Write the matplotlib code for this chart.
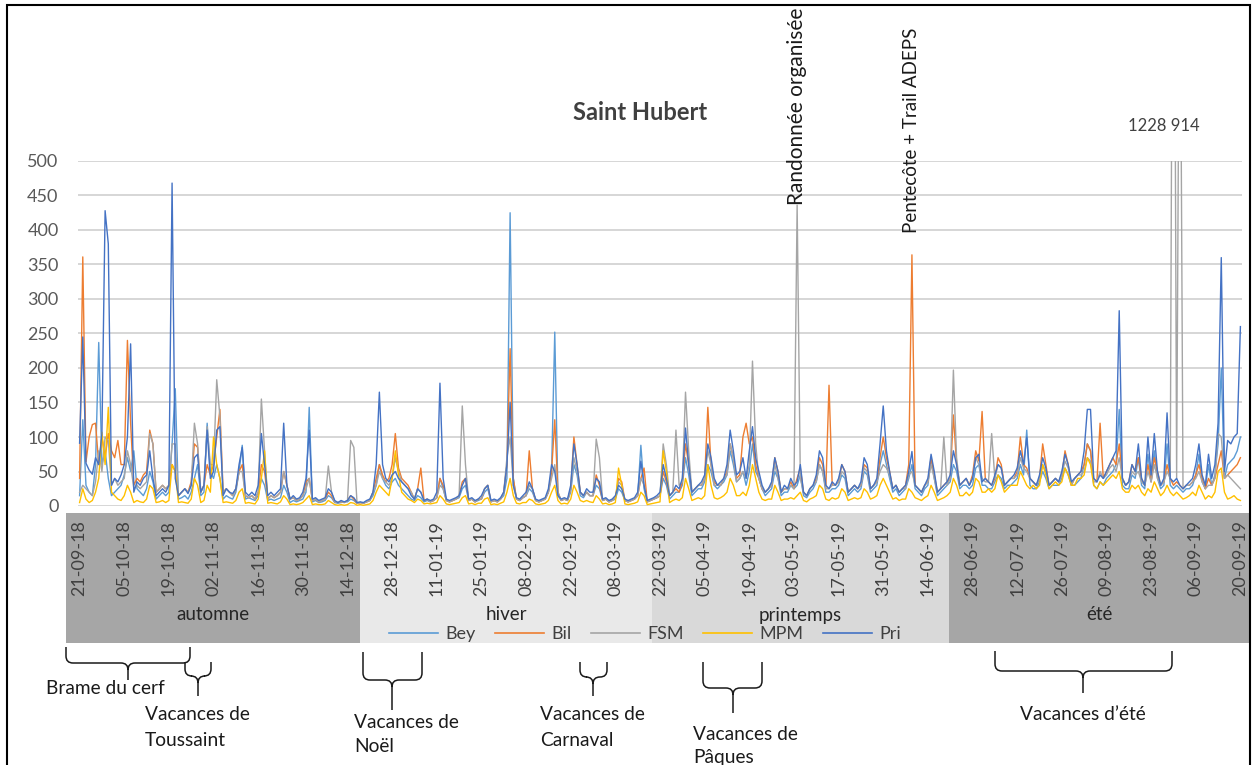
import matplotlib
matplotlib.use("Agg")
import matplotlib.pyplot as plt
import pandas as pd
from matplotlib.path import Path
from matplotlib.patches import PathPatch, Rectangle
from matplotlib.lines import Line2D

plt.rcParams['font.family'] = ['Lato', 'DejaVu Sans']

# daily counts, 21-09-18 -> 20-09-19 (two weeks per line)
dates = pd.date_range('2018-09-21', periods=365, freq='D')

bey = [15, 125, 30, 20, 15, 60, 237, 60, 80, 40, 15, 20, 25, 30,
       45, 70, 50, 80, 25, 20, 15, 25, 50, 35, 10, 15, 20, 15,
       20, 90, 170, 10, 12, 15, 10, 20, 40, 60, 15, 20, 120, 50,
       40, 60, 40, 10, 15, 12, 10, 20, 50, 88, 10, 12, 10, 8,
       15, 40, 30, 8, 10, 8, 10, 12, 30, 20, 5, 8, 6, 8,
       10, 20, 143, 6, 8, 5, 6, 8, 15, 12, 5, 4, 5, 6,
       6, 10, 8, 4, 5, 4, 6, 8, 15, 30, 60, 40, 30, 25,
       35, 40, 30, 25, 20, 15, 10, 8, 15, 12, 6, 8, 6, 8,
       12, 40, 25, 8, 6, 8, 10, 12, 25, 30, 8, 10, 6, 8,
       10, 20, 25, 6, 8, 6, 10, 15, 40, 425, 40, 10, 8, 12,
       15, 25, 20, 8, 6, 8, 10, 20, 50, 252, 15, 8, 10, 8,
       20, 60, 45, 15, 12, 20, 15, 15, 30, 25, 8, 10, 6, 8,
       10, 25, 20, 8, 6, 8, 10, 15, 88, 25, 6, 8, 10, 12,
       15, 40, 30, 10, 15, 20, 20, 30, 70, 45, 15, 20, 25, 25,
       35, 60, 50, 30, 25, 30, 35, 45, 80, 60, 35, 40, 50, 30,
       50, 90, 50, 40, 25, 15, 20, 25, 50, 40, 15, 20, 20, 30,
       25, 30, 45, 15, 12, 20, 25, 35, 60, 50, 20, 20, 25, 25,
       30, 45, 40, 15, 20, 25, 20, 25, 50, 45, 20, 25, 30, 60,
       80, 60, 40, 20, 25, 15, 20, 25, 40, 60, 25, 20, 15, 25,
       30, 70, 40, 15, 20, 25, 30, 35, 60, 50, 25, 30, 30, 25,
       30, 55, 60, 30, 30, 25, 25, 35, 45, 40, 25, 30, 30, 35,
       40, 60, 45, 110, 30, 25, 25, 35, 50, 40, 25, 30, 30, 30,
       40, 55, 45, 30, 30, 35, 40, 60, 90, 80, 30, 25, 35, 30,
       40, 45, 50, 60, 140, 30, 25, 25, 45, 40, 70, 30, 25, 75,
       35, 80, 40, 25, 30, 90, 30, 25, 30, 25, 20, 25, 25, 30,
       45, 75, 35, 25, 60, 30, 45, 90, 200, 40, 60, 65, 70, 80,
       100]

bil = [40, 361, 64, 100, 118, 120, 60, 100, 70, 105, 80, 70, 95, 60,
       60, 240, 120, 30, 40, 35, 45, 50, 110, 90, 20, 25, 30, 25,
       30, 60, 50, 15, 20, 25, 20, 35, 90, 85, 20, 30, 60, 45,
       60, 100, 140, 20, 25, 20, 15, 25, 50, 60, 15, 12, 15, 10,
       20, 60, 50, 10, 15, 12, 15, 20, 50, 30, 10, 12, 8, 10,
       15, 35, 40, 8, 10, 6, 8, 10, 20, 15, 6, 5, 6, 5,
       8, 15, 10, 4, 5, 4, 6, 8, 20, 40, 60, 45, 35, 40,
       60, 105, 55, 40, 35, 30, 20, 10, 25, 55, 8, 10, 6, 8,
       12, 40, 30, 8, 6, 8, 10, 15, 35, 40, 8, 10, 6, 10,
       10, 25, 30, 6, 8, 6, 10, 20, 60, 228, 40, 10, 8, 12,
       15, 80, 25, 8, 6, 8, 10, 20, 50, 125, 20, 8, 10, 8,
       25, 100, 60, 20, 15, 20, 15, 15, 45, 30, 8, 10, 6, 8,
       12, 40, 35, 8, 6, 8, 10, 15, 40, 55, 6, 8, 10, 12,
       15, 50, 35, 15, 20, 25, 20, 35, 90, 60, 20, 25, 30, 30,
       40, 143, 60, 35, 30, 30, 40, 50, 90, 70, 40, 45, 100, 120,
       90, 100, 60, 40, 25, 20, 25, 30, 70, 50, 20, 25, 25, 35,
       25, 40, 55, 20, 15, 25, 30, 40, 70, 60, 25, 175, 30, 30,
       35, 60, 50, 20, 25, 30, 25, 30, 60, 55, 25, 30, 35, 70,
       100, 70, 50, 25, 30, 20, 25, 30, 60, 364, 30, 25, 20, 30,
       35, 70, 45, 20, 25, 30, 35, 40, 132, 60, 30, 35, 40, 30,
       45, 80, 65, 137, 40, 35, 30, 40, 70, 60, 30, 35, 40, 40,
       50, 100, 60, 55, 40, 35, 30, 40, 90, 60, 30, 35, 40, 35,
       45, 80, 60, 30, 40, 45, 50, 60, 90, 80, 40, 35, 120, 40,
       50, 60, 70, 60, 90, 40, 30, 35, 60, 50, 70, 40, 30, 60,
       35, 70, 50, 30, 35, 60, 40, 30, 35, 30, 25, 30, 30, 35,
       45, 60, 40, 25, 40, 30, 40, 60, 80, 40, 45, 50, 55, 60,
       70]

fsm = [20, 30, 25, 20, 15, 35, 80, 50, 100, 95, 30, 40, 30, 35,
       40, 80, 60, 25, 30, 25, 30, 35, 105, 90, 20, 25, 30, 25,
       30, 90, 90, 15, 20, 25, 20, 30, 120, 90, 20, 30, 115, 60,
       60, 183, 130, 20, 25, 20, 15, 25, 50, 50, 15, 12, 15, 10,
       20, 155, 80, 10, 15, 12, 15, 20, 50, 30, 10, 12, 8, 10,
       15, 25, 40, 8, 10, 6, 8, 10, 58, 20, 6, 5, 6, 5,
       8, 95, 85, 4, 5, 4, 6, 8, 20, 30, 50, 40, 35, 30,
       40, 70, 50, 35, 30, 25, 20, 10, 25, 20, 8, 10, 6, 8,
       12, 30, 25, 8, 6, 8, 10, 15, 145, 60, 8, 10, 6, 10,
       10, 25, 30, 6, 8, 6, 10, 20, 70, 100, 30, 10, 8, 12,
       15, 30, 25, 8, 6, 8, 10, 20, 40, 60, 20, 8, 10, 8,
       25, 70, 50, 20, 15, 20, 15, 15, 97, 70, 8, 10, 6, 8,
       12, 35, 30, 8, 6, 8, 10, 15, 40, 30, 6, 8, 10, 12,
       15, 90, 60, 15, 20, 110, 30, 35, 165, 80, 20, 25, 30, 30,
       40, 80, 60, 30, 30, 30, 40, 45, 90, 70, 35, 40, 50, 40,
       60, 210, 90, 40, 25, 20, 25, 30, 60, 40, 20, 25, 25, 30,
       25, 436, 40, 20, 15, 25, 30, 35, 60, 50, 25, 25, 30, 30,
       35, 50, 45, 20, 25, 30, 25, 30, 55, 50, 25, 30, 35, 50,
       60, 55, 45, 25, 30, 20, 25, 25, 45, 50, 30, 25, 20, 30,
       35, 60, 40, 20, 25, 100, 30, 40, 197, 70, 30, 35, 40, 30,
       40, 70, 60, 40, 35, 35, 105, 40, 60, 55, 30, 35, 40, 40,
       45, 70, 55, 50, 40, 35, 30, 40, 60, 50, 30, 35, 40, 35,
       45, 65, 55, 30, 40, 45, 45, 50, 70, 65, 35, 35, 50, 40,
       45, 55, 60, 50, 70, 40, 30, 35, 50, 45, 50, 35, 30, 50,
       35, 60, 40, 30, 35, 50, 40, 1228, 40, 914, 25, 30, 30, 35,
       40, 50, 35, 25, 30, 30, 40, 105, 100, 40, 45, 40, 35, 30,
       25]

mpm = [5, 25, 10, 5, 8, 20, 40, 107, 60, 143, 20, 15, 10, 8,
       15, 30, 20, 5, 8, 6, 5, 10, 30, 25, 5, 6, 8, 5,
       8, 60, 50, 5, 6, 5, 4, 10, 40, 30, 5, 8, 30, 20,
       100, 60, 40, 5, 6, 5, 4, 8, 20, 25, 4, 5, 4, 3,
       10, 40, 80, 4, 5, 4, 3, 6, 15, 10, 2, 3, 2, 3,
       5, 10, 15, 2, 3, 2, 2, 3, 8, 5, 2, 1, 2, 1,
       2, 5, 4, 1, 2, 1, 2, 3, 8, 20, 30, 25, 20, 15,
       40, 80, 45, 20, 15, 10, 8, 5, 10, 8, 3, 4, 3, 4,
       5, 15, 10, 3, 2, 3, 4, 5, 12, 15, 3, 4, 2, 4,
       4, 10, 12, 2, 3, 2, 4, 6, 20, 40, 15, 4, 3, 5,
       5, 10, 8, 3, 2, 3, 4, 8, 20, 30, 8, 3, 4, 3,
       10, 30, 20, 8, 6, 8, 6, 5, 15, 10, 3, 4, 2, 3,
       5, 55, 30, 3, 2, 3, 4, 6, 20, 15, 2, 3, 4, 5,
       6, 80, 50, 5, 8, 10, 8, 12, 40, 25, 8, 10, 12, 10,
       15, 60, 30, 12, 10, 12, 15, 20, 40, 30, 15, 15, 20, 15,
       30, 60, 40, 20, 10, 8, 10, 10, 30, 20, 8, 10, 10, 12,
       10, 15, 20, 8, 6, 10, 12, 15, 30, 25, 10, 8, 12, 10,
       12, 25, 20, 8, 10, 12, 10, 12, 25, 20, 10, 12, 15, 30,
       40, 30, 20, 10, 12, 8, 10, 10, 25, 20, 12, 10, 8, 12,
       15, 30, 20, 8, 10, 12, 15, 20, 40, 30, 15, 15, 20, 15,
       20, 40, 35, 20, 20, 25, 20, 25, 45, 35, 20, 25, 30, 30,
       30, 50, 40, 30, 25, 30, 25, 30, 60, 45, 25, 30, 35, 30,
       35, 55, 45, 30, 30, 40, 40, 45, 70, 60, 30, 25, 35, 30,
       35, 40, 45, 40, 50, 25, 20, 20, 30, 25, 30, 20, 15, 25,
       20, 35, 25, 15, 20, 30, 20, 15, 20, 15, 10, 12, 15, 20,
       15, 30, 20, 10, 15, 12, 20, 50, 55, 20, 10, 12, 15, 10,
       8]

pri = [91, 245, 62, 52, 46, 70, 60, 105, 428, 380, 30, 40, 35, 45,
       60, 100, 235, 20, 35, 30, 40, 45, 80, 40, 15, 20, 25, 20,
       30, 468, 40, 15, 20, 25, 18, 30, 70, 75, 20, 30, 110, 40,
       50, 110, 115, 15, 25, 20, 18, 25, 60, 85, 20, 15, 20, 15,
       30, 105, 60, 15, 20, 15, 20, 25, 120, 30, 10, 15, 10, 12,
       20, 40, 110, 10, 12, 8, 10, 12, 25, 20, 8, 5, 8, 6,
       8, 15, 12, 5, 6, 5, 8, 10, 20, 60, 165, 60, 40, 35,
       45, 50, 40, 35, 30, 25, 15, 10, 25, 20, 8, 10, 8, 10,
       20, 178, 40, 10, 8, 10, 12, 15, 30, 40, 10, 12, 8, 10,
       15, 25, 30, 8, 10, 8, 12, 20, 60, 150, 30, 12, 10, 15,
       20, 35, 25, 10, 8, 10, 12, 25, 60, 50, 15, 10, 12, 10,
       30, 90, 60, 20, 15, 25, 20, 20, 40, 35, 10, 12, 8, 10,
       15, 30, 25, 10, 8, 10, 12, 20, 65, 30, 8, 10, 12, 15,
       20, 60, 40, 15, 20, 30, 25, 40, 113, 60, 20, 25, 30, 35,
       45, 90, 70, 40, 30, 35, 40, 60, 110, 80, 45, 50, 70, 40,
       80, 115, 70, 50, 30, 20, 25, 35, 70, 50, 20, 30, 25, 40,
       30, 35, 60, 20, 15, 25, 30, 45, 80, 70, 30, 25, 35, 30,
       40, 60, 50, 20, 25, 30, 25, 35, 70, 60, 25, 30, 40, 90,
       145, 80, 50, 25, 30, 20, 25, 30, 50, 79, 30, 25, 20, 30,
       40, 75, 50, 20, 25, 30, 35, 45, 80, 60, 30, 35, 40, 30,
       40, 70, 75, 35, 40, 35, 30, 45, 60, 55, 30, 35, 40, 45,
       55, 80, 60, 100, 40, 35, 30, 45, 70, 55, 30, 35, 40, 35,
       50, 75, 60, 35, 40, 45, 50, 80, 140, 140, 40, 35, 45, 40,
       50, 60, 70, 80, 283, 40, 30, 35, 60, 50, 90, 40, 30, 100,
       45, 105, 50, 30, 40, 135, 40, 35, 40, 30, 25, 30, 35, 40,
       60, 90, 45, 30, 75, 40, 60, 120, 360, 50, 95, 90, 100, 105,
       260]

names = ['Bey', 'Bil', 'FSM', 'MPM', 'Pri']
colors = ['#5b9bd5', '#ed7d31', '#a5a5a5', '#ffc000', '#4472c4']
series = [bey, bil, fsm, mpm, pri]

seasons = ['automne', 'hiver', 'printemps', 'été']
season_edges = [88, 179.5, 272.5]          # day index where next season starts
season_colors = ['#a6a6a6', '#e9e9e9', '#d9d9d9', '#a6a6a6']

W, H = 1257, 765
fig = plt.figure(figsize=(W / 100, H / 100), dpi=100)

def fx(px):
    return px / W

def fy(py):
    return 1 - py / H

ppd = 1164 / 365  # pixels per day

# season band under the chart
band = fig.add_axes([fx(66), fy(643), fx(1184), 130 / H], zorder=0)
band.set_xlim(-0.5 - 12 / ppd, 364.5 + 8 / ppd)
band.set_ylim(0, 1)
band.axis('off')
starts = [band.get_xlim()[0]] + season_edges
ends = season_edges + [band.get_xlim()[1]]
for s, e, name, c in zip(starts, ends, seasons, season_colors):
    band.axvspan(s, e, color=c, lw=0)
    band.text((s + e) / 2, (643 - 615) / 130, name, ha='center', va='center',
              fontsize=13.5, color='#262626')

ax = fig.add_axes([fx(78), fy(506), fx(1164), 345 / H], zorder=1)
days = list(range(len(dates)))
for vals, name, c in zip(series, names, colors):
    ax.plot(days, vals, color=c, lw=1.0, label=name)

ax.set_xlim(-0.5, 364.5)
ax.set_ylim(0, 500)
ax.set_yticks(range(0, 501, 50))
ax.yaxis.grid(True, color='#d6d6d6', lw=1.4)
ax.set_axisbelow(True)
for sp in ax.spines.values():
    sp.set_visible(False)
tick_days = list(range(0, 365, 14))
ax.set_xticks(tick_days)
ax.set_xticklabels([dates[i].strftime('%d-%m-%y') for i in tick_days],
                   rotation=90, fontsize=13, color='#404040')
ax.tick_params(axis='x', length=0, pad=10)
ax.tick_params(axis='y', length=0, pad=14, labelsize=13, labelcolor='#595959')
ax.patch.set_alpha(0)

# event labels
ax.text(225, 436, 'Randonnée organisée', rotation=90, ha='center', va='bottom',
        fontsize=15, color='#1a1a1a', clip_on=False)
ax.annotate('Pentecôte + Trail ADEPS', xy=(261, 364), xytext=(0, 16),
            textcoords='offset points', rotation=90, ha='center', va='bottom',
            fontsize=13.5, color='#1a1a1a', annotation_clip=False)
ax.text(340, 551, '1228 914', ha='center', va='center', fontsize=12,
        color='#404040', clip_on=False)

fig.text(fx(640), fy(113), 'Saint Hubert', ha='center', va='center',
         fontsize=17, fontweight='bold', color='#404040')

handles = [Line2D([], [], color=c, lw=1.2) for c in colors]
leg = fig.legend(handles, names, loc='center', bbox_to_anchor=(fx(645), fy(634)),
                 ncol=5, frameon=False, fontsize=13, handlelength=2.7,
                 columnspacing=1.1, handletextpad=0.4)
for t in leg.get_texts():
    t.set_color('#404040')


def brace(x0, x1, xc, ytop, ymid, ybot, r=7):
    pts = [(x0, ytop), (x0, ymid - r), (x0, ymid), (x0 + r, ymid),
           (xc - r, ymid), (xc, ymid), (xc, ymid + r), (xc, ybot),
           (xc, ymid + r), (xc, ymid), (xc + r, ymid),
           (x1 - r, ymid), (x1, ymid), (x1, ymid - r), (x1, ytop)]
    codes = [Path.MOVETO, Path.LINETO, Path.CURVE3, Path.CURVE3,
             Path.LINETO, Path.CURVE3, Path.CURVE3, Path.LINETO,
             Path.MOVETO, Path.CURVE3, Path.CURVE3,
             Path.LINETO, Path.CURVE3, Path.CURVE3, Path.LINETO]
    path = Path([(fx(x), fy(y)) for x, y in pts], codes)
    fig.add_artist(PathPatch(path, fill=False, ec='#1a1a1a', lw=1.1,
                             transform=fig.transFigure))


def label(x, y, txt, ha='left'):
    fig.text(fx(x), fy(y), txt, ha=ha, va='center', fontsize=13.8, color='#1a1a1a')


brace(66, 190, 128, 647, 663, 680)
label(46, 688, 'Brame du cerf')
brace(185, 211, 198, 662, 676, 696)
label(145, 715, 'Vacances de')
label(145, 740, 'Toussaint')
brace(363, 422, 392, 652, 680, 710)
label(354, 722, 'Vacances de')
label(354, 747, 'Noël')
brace(580, 607, 593, 662, 677, 696)
label(540, 715, 'Vacances de')
label(540, 740, 'Carnaval')
brace(703, 762, 733, 662, 688, 713)
label(693, 734, 'Vacances de')
label(693, 758, 'Pâques')
brace(995, 1172, 1083, 651, 671, 693)
label(1083, 715, 'Vacances d’été', ha='center')

# outer frame
fig.add_artist(Rectangle((fx(7), -0.05), fx(1250 - 7), fy(5) + 0.05, fill=False,
                         ec='black', lw=1.5, transform=fig.transFigure))

fig.savefig('out.png', dpi=100)
